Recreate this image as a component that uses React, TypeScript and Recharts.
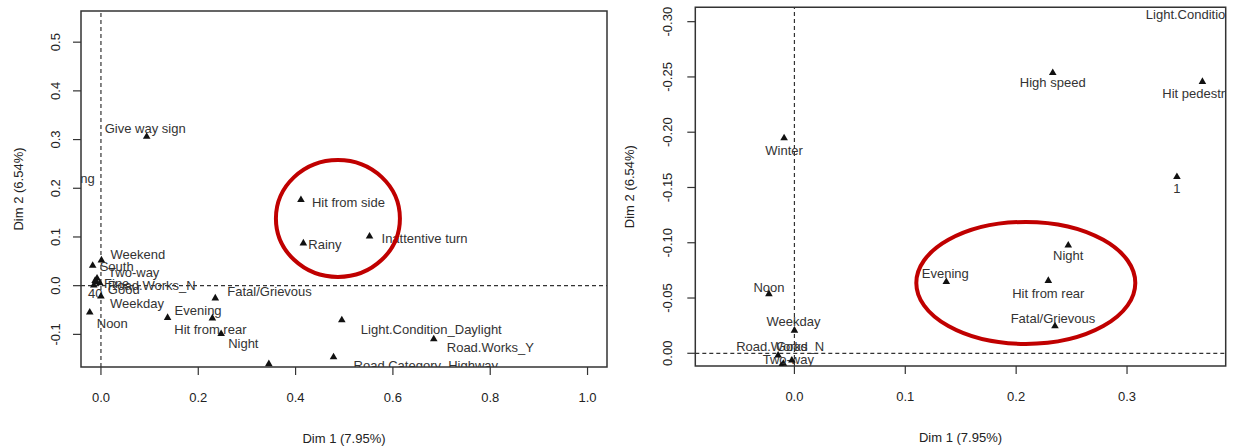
import React from "react";
import {
  ReferenceArea,
  ReferenceDot,
  ReferenceLine,
  Scatter,
  ScatterChart,
  XAxis,
  YAxis,
} from "recharts";

// MCA category coordinates
const labels = [
  "Give way sign",
  "Hit from side",
  "Rainy",
  "Inattentive turn",
  "Weekend",
  "South",
  "Two-way",
  "Fine",
  "Road.Works_N",
  "40",
  "Good",
  "Weekday",
  "Noon",
  "Evening",
  "Fatal/Grievous",
  "Hit from rear",
  "Night",
  "Light.Condition_Daylight",
  "Road.Works_Y",
  "Road.Category_Highway",
  "1",
  "Overtaking",
  "Winter",
  "High speed",
  "Hit pedestrian",
  "Light.Condition_Night",
];
const dim1 = [
  0.094, 0.411, 0.416, 0.552, 0.001, -0.017, -0.01, -0.008, -0.0147, -0.012,
  -0.0023, 0.0, -0.023, 0.137, 0.235, 0.229, 0.247, 0.495, 0.684, 0.478, 0.345,
  -0.15, -0.0093, 0.233, 0.368, 0.373,
];
const dim2 = [
  0.307, 0.177, 0.088, 0.102, 0.053, 0.042, 0.009, 0.016, 0.0015, 0.011, 0.006,
  -0.021, -0.054, -0.065, -0.025, -0.066, -0.098, -0.07, -0.109, -0.146, -0.16,
  0.221, -0.195, -0.254, -0.246, -0.317,
];

const leftXTicks = [0, 0.2, 0.4, 0.6, 0.8, 1.0];
const leftYTicks = [-0.1, 0, 0.1, 0.2, 0.3, 0.4, 0.5];
const rightXTicks = [0, 0.1, 0.2, 0.3];
const rightYTicks = [-0.3, -0.25, -0.2, -0.15, -0.1, -0.05, 0];

const leftXDomain = [-0.041, 1.04];
const leftYDomain = [-0.167, 0.564];
const rightXDomain = [-0.0894, 0.389];
const rightYDomain = [-0.313, 0.0115];

// highlighted groups (centre of each red ellipse, in data units)
const leftCircle = { x: 0.487, y: 0.138 };
const rightCircle = { x: 0.2087, y: -0.0636 };

const points = labels.map((label, i) => ({ label, x: dim1[i], y: dim2[i] }));

// label placement (pixel offsets from the marker), per panel
type Place = [number, number, "start" | "middle" | "end"];
const leftPlace: Record<string, Place> = {
  "Give way sign": [-1.5, -8, "middle"],
  "Hit from side": [11, 3, "start"],
  Rainy: [5, 2, "start"],
  "Inattentive turn": [12, 3, "start"],
  Weekend: [9, -5, "start"],
  South: [7, 1, "start"],
  "Two-way": [12, -9, "start"],
  Fine: [7, 6, "start"],
  "Road.Works_N": [14, 1, "start"],
  "40": [-7, 13, "start"],
  Good: [8, 7, "start"],
  Weekday: [9, 8, "start"],
  Noon: [7, 12, "start"],
  Evening: [7, -7, "start"],
  "Fatal/Grievous": [12, -6, "start"],
  "Hit from rear": [-2, 12, "middle"],
  Night: [7, 10, "start"],
  "Light.Condition_Daylight": [19, 10, "start"],
  "Road.Works_Y": [13, 9, "start"],
  "Road.Category_Highway": [20, 9, "start"],
  "1": [7, 14, "start"],
  Overtaking: [4, 0, "start"],
};
const rightPlace: Record<string, Place> = {
  Night: [0, 11, "middle"],
  "Hit from rear": [0, 13, "middle"],
  "Fatal/Grievous": [-2, -7, "middle"],
  Evening: [-1, -8, "middle"],
  "High speed": [0, 10, "middle"],
  "Hit pedestrian": [0, 12, "middle"],
  "1": [0, 12, "middle"],
  "Light.Condition_Night": [0, 12, "middle"],
  Winter: [0, 13, "middle"],
  Noon: [0, -6, "middle"],
  Weekday: [-1, -9, "middle"],
  "Road.Works_N": [2, -8, "middle"],
  Good: [0, -13, "middle"],
  "Two-way": [5, -4, "middle"],
  "40": [0, 12, "middle"],
};

const FONT = "'Liberation Sans', Arial, sans-serif";
const INK = "#333";

function Marker(props: any) {
  const { cx, cy, payload, place } = props;
  const p: Place | undefined = place[payload.label];
  return (
    <g>
      <path
        d={`M${cx},${cy - 4}L${cx + 3.8},${cy + 2.6}L${cx - 3.8},${cy + 2.6}Z`}
        fill="#111"
      />
      {p ? (
        <text
          x={cx + p[0]}
          y={cy + p[1]}
          textAnchor={p[2]}
          dominantBaseline="central"
          fontSize={13}
          fontFamily={FONT}
          fill={INK}
        >
          {payload.label}
        </text>
      ) : null}
    </g>
  );
}

function YTick(props: any) {
  const { x, y, payload, digits, shift } = props;
  return (
    <g transform={`translate(${x + shift},${y}) rotate(-90)`}>
      <text textAnchor="middle" fontSize={13} fontFamily={FONT} fill="#222">
        {Number(payload.value).toFixed(digits)}
      </text>
    </g>
  );
}

function Ellipse(props: any) {
  const { cx, cy, rx, ry } = props;
  return (
    <ellipse cx={cx} cy={cy} rx={rx} ry={ry} fill="none" stroke="#c00000" strokeWidth={4} />
  );
}

function Panel({
  width,
  margin,
  yWidth,
  xHeight,
  xDomain,
  yDomain,
  xTicks,
  yTicks,
  yDigits,
  yShift,
  yTitleX,
  reversed,
  place,
  circle,
  rx,
  ry,
}: any) {
  return (
    <ScatterChart width={width} height={446} margin={margin}>
      <XAxis
        type="number"
        dataKey="x"
        domain={xDomain}
        allowDataOverflow
        ticks={xTicks}
        tickFormatter={(v: number) => v.toFixed(1)}
        height={xHeight}
        tickSize={8}
        tickMargin={18}
        axisLine={false}
        tickLine={{ stroke: INK, strokeWidth: 1.2 }}
        tick={{ fontSize: 13, fontFamily: FONT, fill: "#222" }}
        label={(p: any) => (
          <text
            x={p.viewBox.x + p.viewBox.width / 2}
            y={p.viewBox.y + 76}
            textAnchor="middle"
            fontSize={13}
            fontFamily={FONT}
            fill="#222"
          >
            Dim 1 (7.95%)
          </text>
        )}
      />
      <YAxis
        type="number"
        dataKey="y"
        domain={yDomain}
        allowDataOverflow
        reversed={reversed}
        ticks={yTicks}
        width={yWidth}
        tickSize={8}
        axisLine={false}
        tickLine={{ stroke: INK, strokeWidth: 1.2 }}
        tick={<YTick digits={yDigits} shift={yShift} />}
        label={(p: any) => (
          <g
            transform={`translate(${p.viewBox.x + yTitleX},${
              p.viewBox.y + p.viewBox.height / 2
            }) rotate(-90)`}
          >
            <text textAnchor="middle" fontSize={13} fontFamily={FONT} fill="#222">
              Dim 2 (6.54%)
            </text>
          </g>
        )}
      />
      <ReferenceLine x={0} stroke={INK} strokeDasharray="4 3" strokeWidth={1.2} />
      <ReferenceLine y={0} stroke={INK} strokeDasharray="4 3" strokeWidth={1.2} />
      <Scatter
        data={points}
        isAnimationActive={false}
        shape={(p: any) => <Marker {...p} place={place} />}
      />
      <ReferenceDot
        x={circle.x}
        y={circle.y}
        r={1}
        shape={(p: any) => <Ellipse cx={p.cx} cy={p.cy} rx={rx} ry={ry} />}
      />
      <ReferenceArea
        x1={xDomain[0]}
        x2={xDomain[1]}
        y1={yDomain[0]}
        y2={yDomain[1]}
        fill="none"
        fillOpacity={0}
        stroke={INK}
        strokeWidth={1.5}
      />
    </ScatterChart>
  );
}

export default function App() {
  return (
    <div
      style={{
        position: "absolute",
        left: 0,
        top: 0,
        width: 1237,
        height: 446,
        background: "#fff",
      }}
    >
      <div style={{ position: "absolute", left: 0, top: 0 }}>
        <Panel
          width={618}
          margin={{ top: 11, right: 11, bottom: 0, left: 0 }}
          yWidth={81}
          xHeight={79}
          xDomain={leftXDomain}
          yDomain={leftYDomain}
          xTicks={leftXTicks}
          yTicks={leftYTicks}
          yDigits={1}
          yShift={-11}
          yTitleX={23}
          reversed={false}
          place={leftPlace}
          circle={leftCircle}
          rx={62}
          ry={58.5}
        />
      </div>
      <div style={{ position: "absolute", left: 618, top: 0 }}>
        <Panel
          width={619}
          margin={{ top: 7.3, right: 11.3, bottom: 0, left: 0 }}
          yWidth={77.3}
          xHeight={80}
          xDomain={rightXDomain}
          yDomain={rightYDomain}
          xTicks={rightXTicks}
          yTicks={rightYTicks}
          yDigits={2}
          yShift={-13.5}
          yTitleX={16}
          reversed={true}
          place={rightPlace}
          circle={rightCircle}
          rx={109.5}
          ry={61}
        />
      </div>
    </div>
  );
}
